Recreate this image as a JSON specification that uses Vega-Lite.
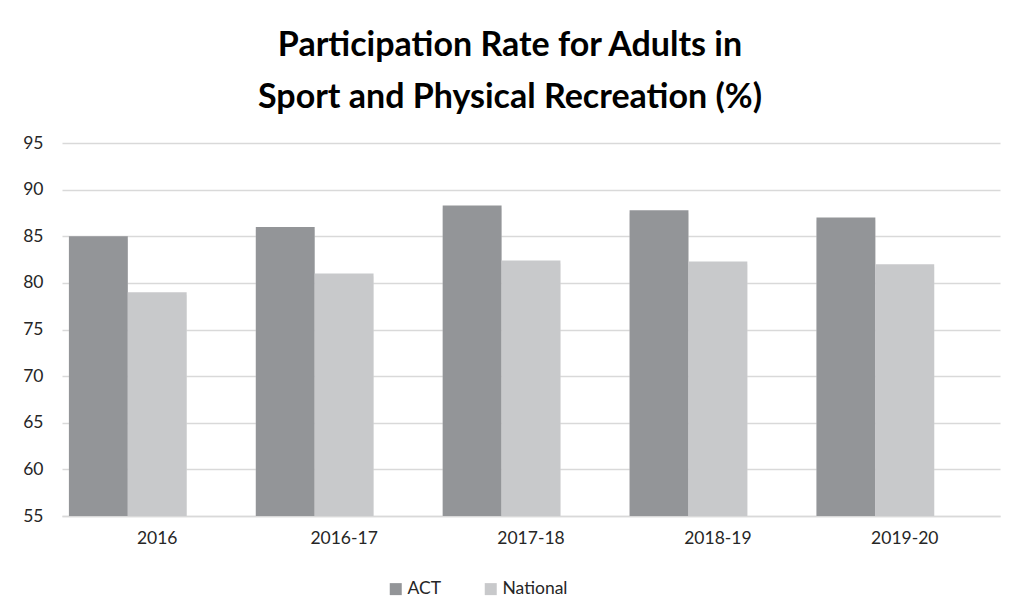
{
  "$schema": "https://vega.github.io/schema/vega-lite/v6.json",
  "autosize": "none",
  "width": 938,
  "height": 373,
  "padding": {"left": 62, "top": 143, "right": 15, "bottom": 96},
  "background": "white",
  "title": {
    "text": ["Participation Rate for Adults in", "Sport and Physical Recreation (%)"],
    "font": "Lato",
    "fontSize": 34,
    "fontWeight": "bold",
    "color": "#000000",
    "lineHeight": 52,
    "anchor": "middle",
    "dx": -21,
    "offset": 19
  },
  "data": {
    "values": [
      {"period": "2016", "series": "ACT", "value": 85.0},
      {"period": "2016", "series": "National", "value": 79.0},
      {"period": "2016-17", "series": "ACT", "value": 86.0},
      {"period": "2016-17", "series": "National", "value": 81.0},
      {"period": "2017-18", "series": "ACT", "value": 88.3},
      {"period": "2017-18", "series": "National", "value": 82.4},
      {"period": "2018-19", "series": "ACT", "value": 87.8},
      {"period": "2018-19", "series": "National", "value": 82.3},
      {"period": "2019-20", "series": "ACT", "value": 87.0},
      {"period": "2019-20", "series": "National", "value": 82.0}
    ]
  },
  "encoding": {
    "x": {
      "field": "period",
      "type": "nominal",
      "sort": ["2016", "2016-17", "2017-18", "2018-19", "2019-20"],
      "scale": {"paddingInner": 0.055, "paddingOuter": 0.037},
      "axis": {
        "title": null,
        "labelAngle": 0,
        "labelFont": "Lato",
        "labelFontSize": 17.5,
        "labelColor": "#262626",
        "labelPadding": 13,
        "ticks": false,
        "domain": true,
        "domainColor": "#d9d9d9",
        "domainWidth": 1.5
      }
    },
    "xOffset": {
      "field": "series",
      "type": "nominal",
      "scale": {"domain": ["ACT", "National", "(blank)"], "paddingInner": 0, "paddingOuter": 0}
    },
    "y": {
      "field": "value",
      "type": "quantitative",
      "scale": {"domain": [55, 95], "nice": false, "zero": false},
      "axis": {
        "title": null,
        "values": [55, 60, 65, 70, 75, 80, 85, 90, 95],
        "labelFont": "Lato",
        "labelFontSize": 17.5,
        "labelColor": "#262626",
        "labelPadding": 19,
        "ticks": false,
        "domain": false,
        "grid": true,
        "gridColor": "#d9d9d9",
        "gridWidth": 1.5
      }
    },
    "y2": {"datum": 55}
  },
  "layer": [
    {
      "mark": {"type": "bar", "color": "#e4e4e4", "xOffset": 4, "yOffset": 3, "opacity": 0.8}
    },
    {
      "mark": {"type": "bar"},
      "encoding": {
        "color": {
          "field": "series",
          "type": "nominal",
          "scale": {"domain": ["ACT", "National"], "range": ["#939598", "#c8c9cb"]},
          "legend": {
            "title": null,
            "orient": "none",
            "legendX": 325,
            "legendY": 437,
            "direction": "horizontal",
            "symbolType": "square",
            "symbolSize": 144,
            "symbolStrokeWidth": 0,
            "labelFont": "Lato",
            "labelFontSize": 17.5,
            "labelColor": "#262626",
            "labelOffset": 3,
            "columnPadding": 40
          }
        }
      }
    }
  ],
  "config": {
    "view": {"stroke": null}
  }
}
